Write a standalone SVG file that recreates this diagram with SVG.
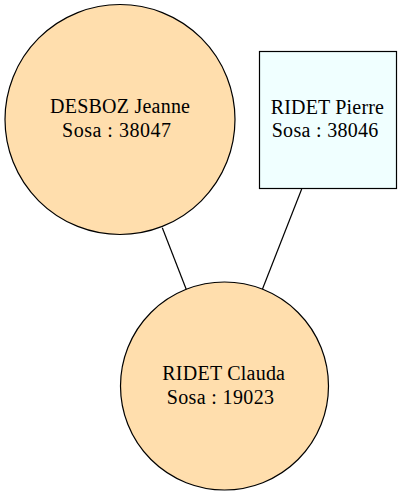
<svg xmlns="http://www.w3.org/2000/svg" width="402" height="496" viewBox="0 0 402 496">
<style>
.n{fill:#ffdead;stroke:#000;stroke-width:1.2}
.r{fill:#f0ffff;stroke:#000;stroke-width:1.2}
.e{stroke:#000;stroke-width:1.2;fill:none}
text{font-family:'Liberation Serif','DejaVu Serif',serif;font-size:20px;fill:#000}
</style>
<rect width="402" height="496" fill="#fff"/>
<g id="edges">
<line class="e" x1="162.3" y1="227.7" x2="186.5" y2="290"/>
<line class="e" x1="301.7" y1="189" x2="262.3" y2="289.5"/>
</g>
<g id="n1">
<circle class="n" cx="120" cy="119.5" r="115"/>
<text x="50" y="113" textLength="140">DESBOZ Jeanne</text>
<text x="62" y="137" textLength="109">Sosa : 38047</text>
</g>
<g id="n2">
<rect class="r" x="259.5" y="51.5" width="137" height="137"/>
<text x="270.7" y="113.5" textLength="113.3">RIDET Pierre</text>
<text x="271.7" y="136.5" textLength="106.6">Sosa : 38046</text>
</g>
<g id="n3">
<circle class="n" cx="224.5" cy="386" r="104"/>
<text x="162.3" y="379.5" textLength="122.7">RIDET Clauda</text>
<text x="166.7" y="403.5" textLength="107.3">Sosa : 19023</text>
</g>
</svg>
